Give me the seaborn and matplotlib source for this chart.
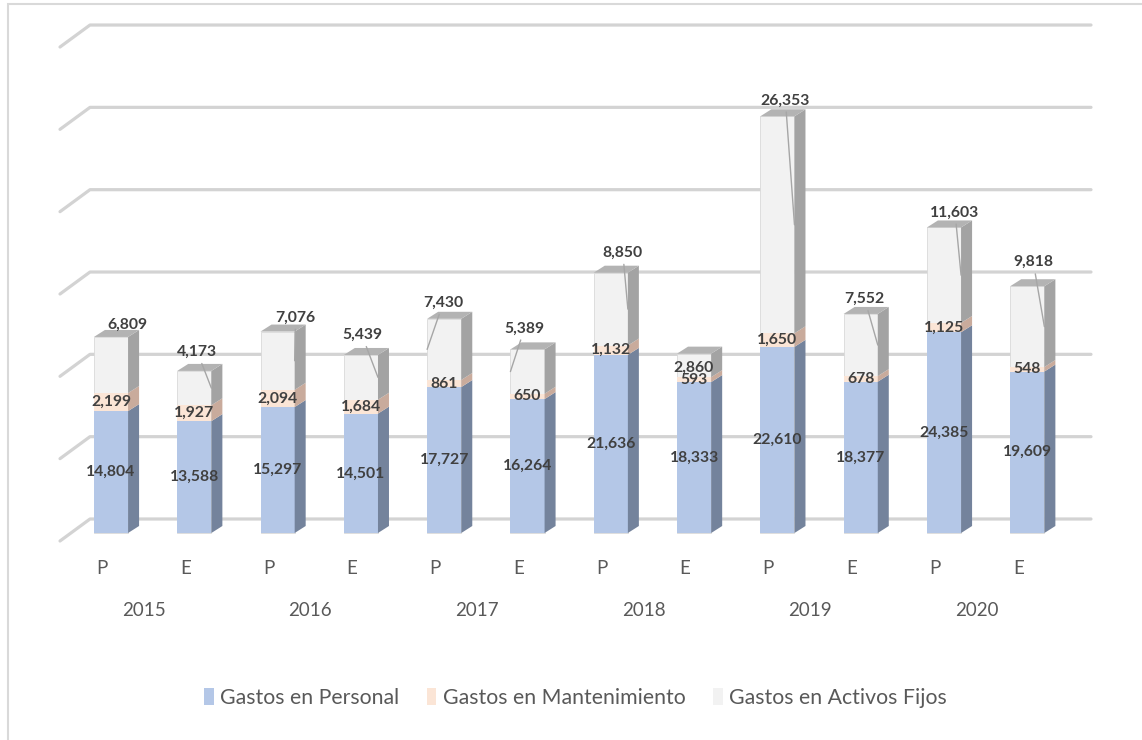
import matplotlib
matplotlib.use("Agg")
import matplotlib.pyplot as plt
from matplotlib.patches import Polygon, Patch, Rectangle
import numpy as np
import pandas as pd
import seaborn as sns

# ---- data -----------------------------------------------------------------
years = ["2015", "2016", "2017", "2018", "2019", "2020"]
kinds = ["P", "E"]  # P = presupuestado, E = ejecutado
personal = [14804, 13588, 15297, 14501, 17727, 16264, 21636, 18333, 22610, 18377, 24385, 19609]
mantenimiento = [2199, 1927, 2094, 1684, 861, 650, 1132, 593, 1650, 678, 1125, 548]
activos = [6809, 4173, 7076, 5439, 7430, 5389, 8850, 2860, 26353, 7552, 11603, 9818]
series_names = ["Gastos en Personal", "Gastos en Mantenimiento", "Gastos en Activos Fijos"]
grid_values = [0, 10000, 20000, 30000, 40000, 50000, 60000]

# ---- style ----------------------------------------------------------------
sns.set_style("white")
plt.rcParams["font.family"] = ["Lato", "DejaVu Sans"]

front_colors = ["#b4c7e7", "#fbe5d6", "#f2f2f2"]
side_colors = ["#74839c", "#c9ab9c", "#a3a3a3"]
top_color = "#b3b3b3"
label_color = "#404040"
axis_text = "#595959"
grid_color = "#d3d3d3"

W, H = 1142, 740
fig = plt.figure(figsize=(W / 100, H / 100), dpi=100)
ax = fig.add_axes([0, 0, 1, 1])

# pixel geometry of the plotting frame
x0_px, step_px = 111.0, 83.3        # centre of first column, spacing
base_px, per_val = 533.0, 0.008233  # baseline (from top), pixels per unit value
xlim = (-x0_px / step_px, (W - x0_px) / step_px)
ylim = (-(H - base_px) / per_val, base_px / per_val)

def ux(p):
    """horizontal pixels -> x data units"""
    return p / step_px

def uv(p):
    """vertical pixels -> value units"""
    return p / per_val

labels = [f"{y} {k}" for y in years for k in kinds]
df = pd.DataFrame({
    "punto": labels,
    "personal": personal,
    "mantenimiento": mantenimiento,
    "activos": activos,
})
df["tope_mant"] = df["personal"] + df["mantenimiento"]
df["total"] = df["tope_mant"] + df["activos"]

bw = 0.41
depth_x, depth_v = ux(11), uv(7)

# back-wall gridlines with the slanted side-wall segment
for g in grid_values:
    yb = g + uv(14)
    ax.plot([ux(60 - x0_px), ux(90 - x0_px), ux(1091 - x0_px)],
            [yb - uv(22), yb, yb], color=grid_color, lw=2.3,
            solid_capstyle="round", solid_joinstyle="round", zorder=0.5)

# front faces: cumulative heights overlaid from tallest to shortest
for col, colr, ec in [("total", front_colors[2], "#d9d9d9"),
                      ("tope_mant", front_colors[1], "none"),
                      ("personal", front_colors[0], "none")]:
    sns.barplot(data=df, x="punto", y=col, order=labels, color=colr,
                saturation=1, width=bw, errorbar=None, edgecolor=ec,
                linewidth=0.6, ax=ax, zorder=2)

# side and top faces give the columns their depth
for i, row in df.iterrows():
    xr = i + bw / 2
    segs = [(0, row["personal"]), (row["personal"], row["tope_mant"]),
            (row["tope_mant"], row["total"])]
    for (b, t), sc in zip(segs, side_colors):
        ax.add_patch(Polygon([(xr, b), (xr + depth_x, b + depth_v),
                              (xr + depth_x, t + depth_v), (xr, t)],
                             closed=True, facecolor=sc, edgecolor="none", zorder=2))
    t = row["total"]
    ax.add_patch(Polygon([(i - bw / 2, t), (xr, t), (xr + depth_x, t + depth_v),
                          (i - bw / 2 + depth_x, t + depth_v)],
                         closed=True, facecolor=top_color, edgecolor="none", zorder=2))

# data labels
lab_kw = dict(ha="center", va="center", fontsize=11.3, fontweight="bold",
              color=label_color, zorder=5)
for i, row in df.iterrows():
    ax.text(i, row["personal"] / 2, f"{row['personal']:,}", **lab_kw)
    ax.text(i, row["personal"] + row["mantenimiento"] / 2,
            f"{row['mantenimiento']:,}", **lab_kw)

# labels of the top series sit above the columns, with leader lines
top_offsets = [(16, -12), (3, -19), (18, -14), (1, -20), (-1, -16), (-3, -21),
               (12, -20), (-1, 14), (8, -16), (4, -15), (11, -15), (6, -24)]
leader_side = [0, 1, 1, 1, -1, -1, 1, 0, 1, 1, 1, 1]
for i, row in df.iterrows():
    dxp, dyp = top_offsets[i]
    pos = (i + ux(dxp), row["total"] - uv(dyp))
    txt = f"{row['activos']:,}"
    if leader_side[i]:
        target = (i + leader_side[i] * bw / 2,
                  row["tope_mant"] + row["activos"] / 2)
        ax.annotate(txt, xy=target, xytext=pos, textcoords="data",
                    arrowprops=dict(arrowstyle="-", color="#a6a6a6", lw=1.0,
                                    shrinkA=1, shrinkB=0),
                    **lab_kw)
    else:
        ax.text(pos[0], pos[1], txt, **lab_kw)

# category axis: P/E under each column, year under each pair
for i, lab in enumerate(labels):
    ax.annotate(lab.split()[1], xy=(i, 0), xytext=(-9, -36),
                textcoords="offset pixels", ha="center", va="center",
                fontsize=13.5, color=axis_text)
for k, y in enumerate(years):
    ax.annotate(y, xy=(2 * k + 0.5, 0), xytext=(-9, -78),
                textcoords="offset pixels", ha="center", va="center",
                fontsize=13.5, color=axis_text)

ax.set_xlim(*xlim)
ax.set_ylim(*ylim)
ax.axis("off")

# legend
handles = [Patch(facecolor=c, edgecolor="none") for c in front_colors]
fig.legend(handles, series_names, loc="center", ncol=3, frameon=False,
           bbox_to_anchor=(0.504, 1 - 698 / H), fontsize=15.3,
           labelcolor=axis_text, handlelength=0.45, handleheight=0.85,
           handletextpad=0.3, columnspacing=1.3)

# chart-area border
fig.add_artist(Rectangle((8 / W, -0.05), 1.2, 1.05 - 4 / H,
                         transform=fig.transFigure, fill=False,
                         edgecolor="#d9d9d9", lw=1.5))

fig.savefig("out.png", dpi=100)
